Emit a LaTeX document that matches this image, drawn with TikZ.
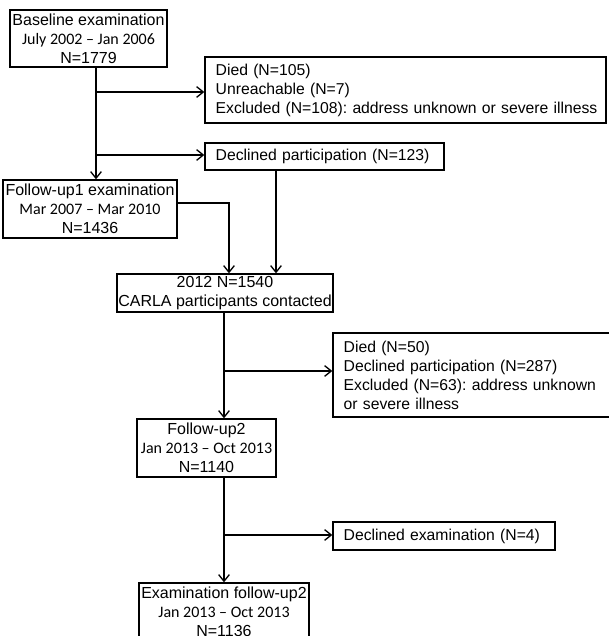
\documentclass[tikz,border=0pt]{standalone}
\usepackage{fontspec}
\setmainfont{Liberation Sans}
\newfontfamily\calib{Carlito}
\usetikzlibrary{arrows.meta}
\frenchspacing

\begin{document}
\begin{tikzpicture}[x=0.75pt,y=-0.75pt,
	box/.style={draw=black, line width=1pt, inner sep=0pt, align=center, font=\fontsize{12}{14.25}\selectfont},
	note/.style={draw=black, line width=1pt, inner xsep=8pt, inner ysep=0pt, align=left, font=\fontsize{11.8}{14.25}\selectfont},
	flow/.style={line width=1pt, -{Straight Barb[length=5pt,width=8pt]}}]
	
	\useasboundingbox (0,0) rectangle (608,636);
	
	\node[box, minimum width=117.75pt, minimum height=42.75pt] (base) at (88.5,38.5) {Baseline examination\\{\calib July 2002 – Jan 2006}\\N=1779};
	\node[note, minimum width=300.75pt, minimum height=49.5pt, text width=284.75pt] (excl1) at (405.5,90) {Died (N=105)\\Unreachable (N=7)\\\mbox{Excluded (N=108): address unknown or severe illness}};
	\node[note, minimum width=179.25pt, minimum height=20.25pt, text width=163.25pt] (decl1) at (324.5,156.5) {\mbox{Declined participation (N=123)}};
	\node[box, minimum width=130.5pt, minimum height=43.5pt] (fu1) at (90,209) {Follow-up1 examination\\{\calib Mar 2007 – Mar 2010}\\N=1436};
	\node[box, minimum width=162pt, minimum height=28.5pt] (contact) at (225,293) {2012 N=1540\\CARLA participants contacted};
	\node[note, minimum width=209.25pt, minimum height=63pt, text width=193.25pt] (excl2) at (472.5,375) {Died (N=50)\\Declined participation (N=287)\\\mbox{Excluded (N=63): address unknown}\\or severe illness};
	\node[box, minimum width=104.25pt, minimum height=43.5pt] (fu2) at (206.5,448) {Follow-up2\\{\calib Jan 2013 – Oct 2013}\\N=1140};
	\node[note, minimum width=166.5pt, minimum height=21pt, text width=150.5pt] (decl2) at (444,536) {\mbox{Declined examination (N=4)}};
	\node[box, minimum width=127.5pt, minimum height=43.5pt] (exam) at (224,612) {Examination follow-up2\\{\calib Jan 2013 – Oct 2013}\\N=1136};
	
	\coordinate (s1) at (96,92);
	\coordinate (s2) at (96,155);
	\coordinate (k1) at (229,203);
	\coordinate (k2) at (276,0);
	\coordinate (s3) at (224,371);
	\coordinate (s4) at (224,535);
	
	\draw[flow] (base.south -| s1) -- (s1 |- fu1.north);
	\draw[flow] (s1) -- (s1 -| excl1.west);
	\draw[flow] (s2) -- (s2 -| decl1.west);
	\draw[flow] (fu1.east |- k1) -- (k1) -- (k1 |- contact.north);
	\draw[flow] (k2 |- decl1.south) -- (k2 |- contact.north);
	\draw[flow] (contact.south -| s3) -- (s3 |- fu2.north);
	\draw[flow] (s3) -- (s3 -| excl2.west);
	\draw[flow] (fu2.south -| s4) -- (s4 |- exam.north);
	\draw[flow] (s4) -- (s4 -| decl2.west);
	
\end{tikzpicture}
\end{document}
